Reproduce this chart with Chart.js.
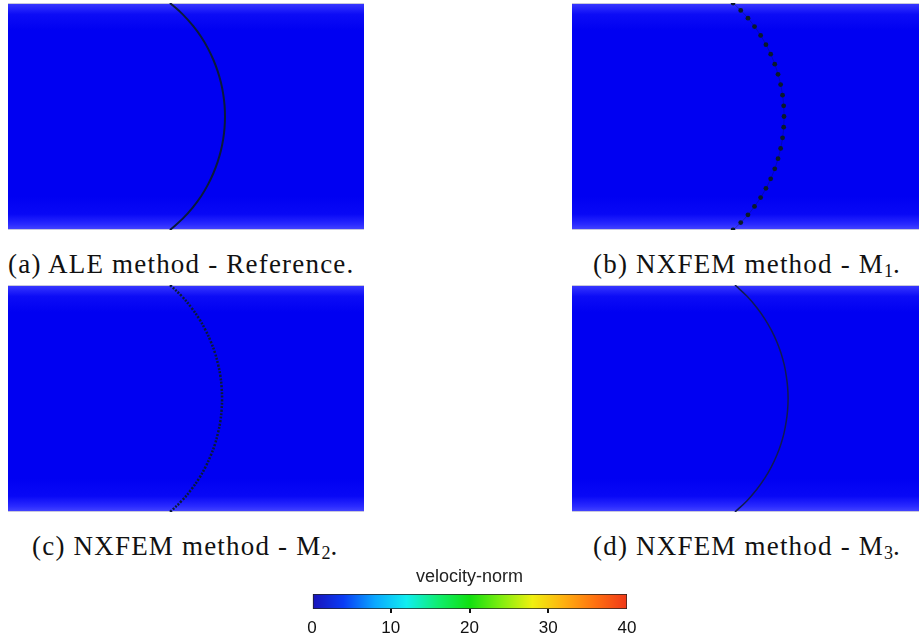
<!DOCTYPE html>
<html>
<head>
<meta charset="utf-8">
<script src="https://cdn.jsdelivr.net/npm/chart.js@4.4.0/dist/chart.umd.min.js"></script>
<style>
  html, body { margin: 0; padding: 0; background: #fff; overflow: hidden; }
  body { width: 919px; height: 641px; position: relative; }
  .panel { position: absolute; }
  .cap { position: absolute; font-family: "Liberation Serif", serif; font-size: 27px; letter-spacing: 1.2px; color: #111; white-space: nowrap; line-height: 30px; }
  .cap sub { font-size: 18px; vertical-align: -4px; line-height: 0; letter-spacing: 0; }
</style>
</head>
<body>
<canvas id="pa" class="panel" width="356" height="227" style="left:8px;top:3px"></canvas>
<canvas id="pb" class="panel" width="356" height="227" style="left:572px;top:3px"></canvas>
<canvas id="pc" class="panel" width="356" height="227" style="left:8px;top:285px"></canvas>
<canvas id="pd" class="panel" width="356" height="227" style="left:572px;top:285px"></canvas>

<div class="cap" style="left:8px;top:249px">(a) ALE method - Reference.</div>
<div class="cap" style="left:593px;top:249px">(b) NXFEM method - M<sub>1</sub>.</div>
<div class="cap" style="left:32px;top:531px">(c) NXFEM method - M<sub>2</sub>.</div>
<div class="cap" style="left:593px;top:531px">(d) NXFEM method - M<sub>3</sub>.</div>

<canvas id="cbar" class="panel" width="360" height="90" style="left:290px;top:563px"></canvas>

<script>
// interface positions (domain x 0..3.15, y -1..1)
var arcY  = [1, 0.9, 0.8, 0.7, 0.6, 0.5, 0.4, 0.3, 0.2, 0.1, 0, -0.1, -0.2, -0.3, -0.4, -0.5, -0.6, -0.7, -0.8, -0.9, -1];
var arcXa = [1.433, 1.546, 1.636, 1.710, 1.769, 1.817, 1.855, 1.884, 1.904, 1.916, 1.920, 1.916, 1.904, 1.884, 1.855, 1.817, 1.769, 1.710, 1.636, 1.546, 1.433];
var arcXc = [1.434, 1.539, 1.623, 1.693, 1.749, 1.795, 1.832, 1.859, 1.879, 1.890, 1.894, 1.890, 1.879, 1.859, 1.832, 1.795, 1.749, 1.693, 1.623, 1.539, 1.434];
var arcXd = [1.442, 1.549, 1.636, 1.707, 1.765, 1.812, 1.849, 1.877, 1.896, 1.908, 1.912, 1.908, 1.896, 1.877, 1.849, 1.812, 1.765, 1.707, 1.636, 1.549, 1.442];

// M1 interface nodes (dots)
var dotY = [1.000, 0.935, 0.866, 0.792, 0.714, 0.633, 0.549, 0.461, 0.372, 0.281, 0.188, 0.094, 0, -0.094, -0.188, -0.281, -0.372, -0.461, -0.549, -0.633, -0.714, -0.792, -0.866, -0.935, -1.000];
var dotX = [1.425, 1.493, 1.557, 1.615, 1.669, 1.716, 1.758, 1.794, 1.823, 1.846, 1.863, 1.873, 1.876, 1.873, 1.863, 1.846, 1.823, 1.794, 1.758, 1.716, 1.669, 1.615, 1.557, 1.493, 1.425];

// colour bar
var cbTicks = [0, 10, 20, 30, 40];
var cbColors = ['#1a12b8', '#0a3cf5', '#0aa8ff', '#10eef0', '#10ee70', '#10e010', '#80ee10', '#f0f010', '#ffb010', '#ff7010', '#f03818'];

function pts(xs, ys) {
  return xs.map(function (x, i) { return { x: x, y: ys[i] }; });
}

var flowBg = {
  id: 'flowBg',
  beforeDatasetsDraw: function (chart) {
    var c = chart.ctx, a = chart.chartArea;
    var g = c.createLinearGradient(0, a.top, 0, a.bottom);
    g.addColorStop(0, '#3a3aff');
    g.addColorStop(0.05, '#0c0cf6');
    g.addColorStop(0.12, '#0000f2');
    g.addColorStop(0.85, '#0000f2');
    g.addColorStop(0.93, '#0808f6');
    g.addColorStop(0.975, '#2a2aff');
    g.addColorStop(1, '#4848ff');
    c.save();
    c.fillStyle = g;
    c.fillRect(a.left, a.top, a.right - a.left, a.bottom - a.top);
    c.fillStyle = '#c8c8dc';
    c.fillRect(a.left, a.top, a.right - a.left, 1);
    c.fillRect(a.left, a.bottom - 1, a.right - a.left, 1);
    c.restore();
  }
};

function panel(id, ds) {
  new Chart(document.getElementById(id), {
    type: 'scatter',
    data: { datasets: ds },
    options: {
      responsive: false,
      animation: false,
      devicePixelRatio: 1,
      layout: { padding: 0, autoPadding: false },
      plugins: { legend: { display: false }, tooltip: { enabled: false } },
      scales: {
        x: { type: 'linear', min: 0, max: 3.15, display: false },
        y: { type: 'linear', min: -1, max: 1, display: false }
      }
    },
    plugins: [flowBg]
  });
}

panel('pa', [
  { data: pts(arcXa, arcY), showLine: true, tension: 0.4, clip: false,
    borderColor: '#0a1a3a', borderWidth: 2, pointRadius: 0 }
]);

panel('pb', [
  { data: pts(dotX, dotY), showLine: true, tension: 0.4, clip: false,
    borderColor: 'rgba(10,20,60,0.3)', borderWidth: 1,
    pointRadius: 2.4, pointBackgroundColor: '#0a1a2a', pointBorderWidth: 0 }
]);

panel('pc', [
  { data: pts(arcXc, arcY), showLine: true, tension: 0.4, clip: false,
    borderColor: '#0a1a3a', borderWidth: 2.5, borderDash: [2, 1.5], pointRadius: 0 }
]);

panel('pd', [
  { data: pts(arcXd, arcY), showLine: true, tension: 0.4, clip: false,
    borderColor: '#101a50', borderWidth: 1.5, pointRadius: 0 }
]);

new Chart(document.getElementById('cbar'), {
  type: 'bar',
  data: {
    labels: [''],
    datasets: [{
      data: [[cbTicks[0], cbTicks[cbTicks.length - 1]]],
      backgroundColor: function (ctx) {
        var a = ctx.chart.chartArea;
        if (!a) return '#00f';
        var g = ctx.chart.ctx.createLinearGradient(a.left, 0, a.right, 0);
        cbColors.forEach(function (col, i) { g.addColorStop(i / (cbColors.length - 1), col); });
        return g;
      },
      borderColor: '#222',
      borderWidth: 1,
      borderSkipped: false,
      barPercentage: 1,
      categoryPercentage: 1
    }]
  },
  options: {
    indexAxis: 'y',
    responsive: false,
    animation: false,
    devicePixelRatio: 1,
    layout: { padding: { left: 22, right: 23, top: 1, bottom: 9.6 } },
    plugins: {
      legend: { display: false },
      tooltip: { enabled: false },
      title: {
        display: true, text: 'velocity-norm', color: '#222',
        font: { family: 'Liberation Sans', size: 18, weight: 'normal' },
        padding: { top: 2, bottom: 6.4 }
      }
    },
    scales: {
      x: {
        min: 0, max: 40,
        afterBuildTicks: function (s) { s.ticks = cbTicks.map(function (v) { return { value: v }; }); },
        ticks: { color: '#111', padding: 5, font: { family: 'Liberation Sans', size: 17 } },
        border: { display: false },
        grid: {
          drawOnChartArea: false, tickLength: 4, lineWidth: 2,
          color: function (ctx) {
            return (ctx.tick && (ctx.tick.value === 0 || ctx.tick.value === 40)) ? 'rgba(0,0,0,0)' : '#111';
          }
        }
      },
      y: { display: false }
    }
  }
});
</script>
</body>
</html>
